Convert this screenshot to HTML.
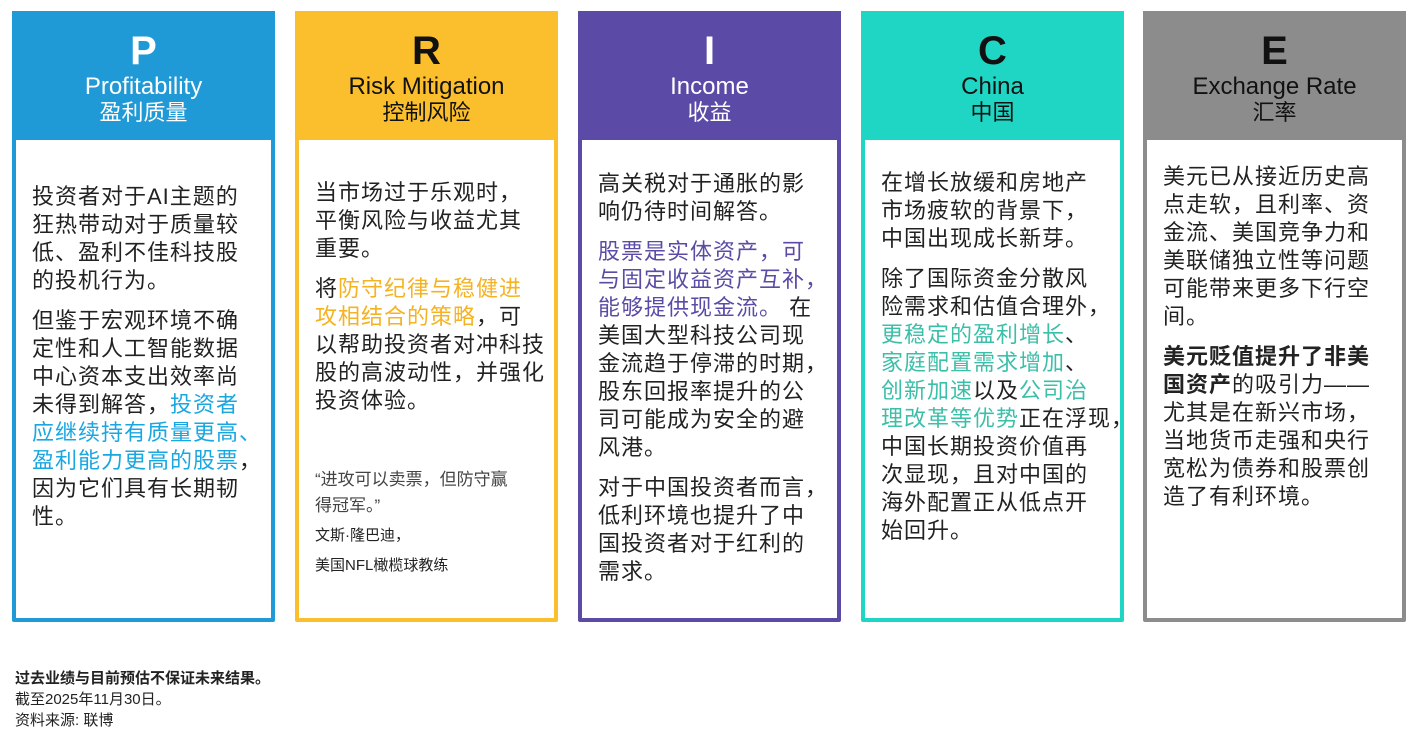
<!DOCTYPE html>
<html><head><meta charset="utf-8"><style>
*{margin:0;padding:0;box-sizing:border-box}
body{width:1428px;height:740px;background:#fff;font-family:"Liberation Sans","Noto Sans CJK SC",sans-serif;position:relative;overflow:hidden;color:#222}
.col{position:absolute;top:11px;width:263px;height:611px;border:4px solid;border-radius:2px;background:#fff}
.hd{position:absolute;left:-4px;top:-4px;width:263px;height:129px;text-align:center}
.L{position:absolute;left:0;right:0;top:18px;font-size:40px;font-weight:bold;line-height:44px}
.E{position:absolute;left:0;right:0;top:62px;font-size:24px;line-height:28px}
.C{position:absolute;left:0;right:0;top:89px;font-size:22px;line-height:26px}
.bd{position:absolute;left:16px;font-size:22px;line-height:28px;letter-spacing:1px;white-space:nowrap}
.bd p{margin-bottom:12px}
.q{font-size:17px;line-height:26px;color:#444;letter-spacing:0}
.s{font-size:15px;line-height:30px;letter-spacing:0}
.ft{position:absolute;left:15px;font-size:15px;line-height:21px}
</style></head><body>

<div class="col" style="left:12px;border-color:#1f9ad6">
<div class="hd" style="background:#1f9ad6;color:#fff"><div class="L">P</div><div class="E">Profitability</div><div class="C">盈利质量</div></div>
<div class="bd" style="top:168px">
<p>投资者对于AI主题的<br>狂热带动对于质量较<br>低、盈利不佳科技股<br>的投机行为。</p>
<p>但鉴于宏观环境不确<br>定性和人工智能数据<br>中心资本支出效率尚<br>未得到解答，<span style="color:#1aa7e0">投资者<br>应继续持有质量更高、<br>盈利能力更高的股票</span>，<br>因为它们具有长期韧<br>性。</p>
</div></div>

<div class="col" style="left:295px;border-color:#fbbf2d">
<div class="hd" style="background:#fbbf2d;color:#111"><div class="L">R</div><div class="E">Risk Mitigation</div><div class="C">控制风险</div></div>
<div class="bd" style="top:164px">
<p>当市场过于乐观时，<br>平衡风险与收益尤其<br>重要。</p>
<p>将<span style="color:#f5b324">防守纪律与稳健进<br>攻相结合的策略</span>，可<br>以帮助投资者对冲科技<br>股的高波动性，并强化<br>投资体验。</p>
<p class="q" style="margin-top:52px;margin-bottom:2px">“进攻可以卖票，但防守赢<br>得冠军。”</p>
<p class="s" style="margin:0">文斯·隆巴迪，<br>美国NFL橄榄球教练</p>
</div></div>

<div class="col" style="left:578px;border-color:#5b4ba6">
<div class="hd" style="background:#5b4ba6;color:#fff"><div class="L">I</div><div class="E">Income</div><div class="C">收益</div></div>
<div class="bd" style="top:155px">
<p>高关税对于通胀的影<br>响仍待时间解答。</p>
<p><span style="color:#5b4ba6">股票是实体资产，可<br>与固定收益资产互补，<br>能够提供现金流。</span> 在<br>美国大型科技公司现<br>金流趋于停滞的时期，<br>股东回报率提升的公<br>司可能成为安全的避<br>风港。</p>
<p>对于中国投资者而言，<br>低利环境也提升了中<br>国投资者对于红利的<br>需求。</p>
</div></div>

<div class="col" style="left:861px;border-color:#1fd6c4">
<div class="hd" style="background:#1fd6c4;color:#111"><div class="L">C</div><div class="E">China</div><div class="C">中国</div></div>
<div class="bd" style="top:154px">
<p>在增长放缓和房地产<br>市场疲软的背景下，<br>中国出现成长新芽。</p>
<p>除了国际资金分散风<br>险需求和估值合理外，<br><span style="color:#3cbfa8">更稳定的盈利增长</span>、<br><span style="color:#3cbfa8">家庭配置需求增加</span>、<br><span style="color:#3cbfa8">创新加速</span>以及<span style="color:#3cbfa8">公司治<br>理改革等优势</span>正在浮现，<br>中国长期投资价值再<br>次显现，且对中国的<br>海外配置正从低点开<br>始回升。</p>
</div></div>

<div class="col" style="left:1143px;border-color:#8c8c8c">
<div class="hd" style="background:#8c8c8c;color:#111"><div class="L">E</div><div class="E">Exchange Rate</div><div class="C">汇率</div></div>
<div class="bd" style="top:148px">
<p>美元已从接近历史高<br>点走软，且利率、资<br>金流、美国竞争力和<br>美联储独立性等问题<br>可能带来更多下行空<br>间。</p>
<p><b>美元贬值提升了非美<br>国资产</b>的吸引力——<br>尤其是在新兴市场，<br>当地货币走强和央行<br>宽松为债券和股票创<br>造了有利环境。</p>
</div></div>

<div class="ft" style="top:668px;font-weight:bold">过去业绩与目前预估不保证未来结果。</div>
<div class="ft" style="top:689px">截至2025年11月30日。</div>
<div class="ft" style="top:710px">资料来源: 联博</div>
</body></html>
